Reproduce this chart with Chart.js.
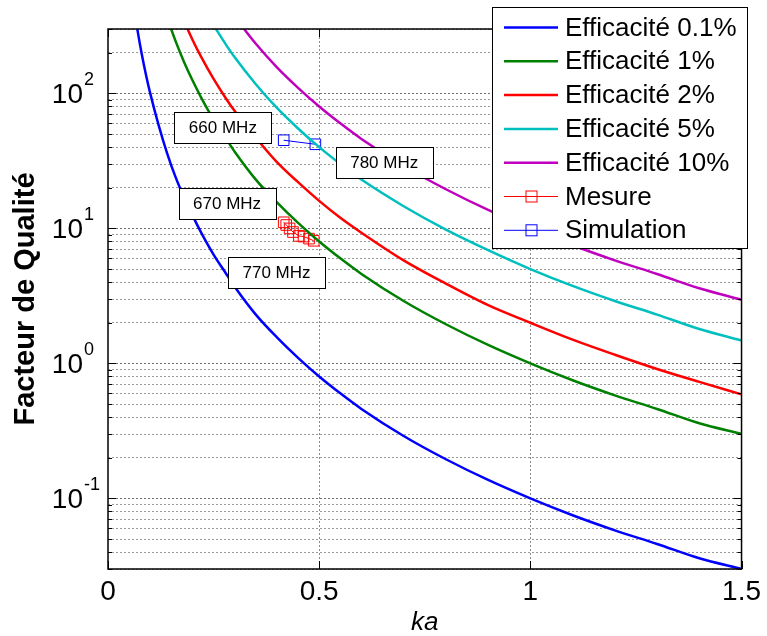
<!DOCTYPE html>
<html>
<head>
<meta charset="utf-8">
<title>Facteur de Qualité</title>
<script src="https://cdn.jsdelivr.net/npm/chart.js@4.4.1/dist/chart.umd.min.js"></script>
<style>
  html, body { margin: 0; padding: 0; background: #fff; }
  #wrap { width: 767px; height: 636px; position: relative; }
</style>
</head>
<body>
<div id="wrap"><canvas id="qChart"></canvas></div>
<script>
// values
const kaGrid = [0.06, 0.07, 0.08, 0.09, 0.10, 0.12, 0.14, 0.16, 0.18, 0.20, 0.22, 0.25, 0.28, 0.30,
  0.35, 0.40, 0.45, 0.50, 0.55, 0.60, 0.70, 0.80, 0.90, 1.00, 1.10, 1.20, 1.30, 1.40, 1.50];

const qEff01 = [463, 292, 195, 137, 100, 58, 36, 24, 17, 12.5, 9.4, 6.4, 4.6, 3.7,
  2.3, 1.56, 1.1, 0.8, 0.6, 0.46, 0.29, 0.195, 0.137, 0.1, 0.075, 0.058, 0.046, 0.036, 0.03];
const qEff1 = [null, null, null, null, null, null, 364, 244, 171, 125, 94, 64, 46, 37,
  23, 15.6, 11, 8, 6, 4.6, 2.9, 1.95, 1.37, 1.0, 0.75, 0.58, 0.46, 0.36, 0.3];
const qEff2 = [null, null, null, null, null, null, null, null, 343, 250, 188, 128, 91, 74,
  47, 31, 22, 16, 12, 9.3, 5.8, 3.9, 2.7, 2.0, 1.5, 1.16, 0.91, 0.73, 0.59];
const qEff5 = [null, null, null, null, null, null, null, null, null, null, null, 320, 228, 185,
  117, 78, 55, 40, 30, 23, 14.6, 9.8, 6.9, 5.0, 3.75, 2.9, 2.3, 1.8, 1.48];
const qEff10 = [null, null, null, null, null, null, null, null, null, null, null, null, null, 370,
  233, 156, 110, 80, 60, 46, 29, 19.5, 13.7, 10, 7.5, 5.8, 4.6, 3.6, 2.96];

const mesureKa = [0.416, 0.422, 0.430, 0.438, 0.452, 0.463, 0.476, 0.487];
const mesureQ = [11.1, 10.6, 10.0, 9.4, 8.8, 8.7, 8.4, 8.1];

const simuKa = [0.416, 0.491];
const simuQ = [45, 42];

const seriesNames = ["Efficacité 0.1%", "Efficacité 1%", "Efficacité 2%", "Efficacité 5%",
  "Efficacité 10%", "Mesure", "Simulation"];
const seriesColors = ["#0000ff", "#008000", "#ff0000", "#00bfbf", "#bf00bf", "#ff0000", "#0000ff"];

const xTicks = [0, 0.5, 1, 1.5];
const yDecades = [-1, 0, 1, 2];
const yMin = 0.03;
const yMax = 300;

// frequency labels: text and the (ka, Q) point where the box is centred
const noteText = ["660 MHz", "780 MHz", "670 MHz", "770 MHz"];
const noteKa = [0.272, 0.654, 0.282, 0.399];
const noteQ = [56, 31, 15.4, 4.75];

const FONT = "'Liberation Sans', Arial, Helvetica, sans-serif";

function toPoints(xs, ys) {
  return xs.map((x, i) => ({ x: x, y: ys[i] }));
}

// minor + major grid positions for the log axis
const yGrid = [];
for (let e = -2; e <= 2; e++) {
  for (let m = 1; m <= 9; m++) {
    const v = m * Math.pow(10, e);
    if (v >= yMin - 1e-9 && v <= yMax + 1e-9) yGrid.push(v);
  }
}
function isDecade(v) {
  const l = Math.log10(v);
  return Math.abs(l - Math.round(l)) < 1e-6;
}

const curveSets = [qEff01, qEff1, qEff2, qEff5, qEff10].map((vals, i) => ({
  label: seriesNames[i],
  data: toPoints(kaGrid, vals),
  borderColor: seriesColors[i],
  borderWidth: 2.5,
  pointRadius: 0,
  cubicInterpolationMode: "monotone",
  spanGaps: false,
}));

const markerSets = [
  { xs: mesureKa, ys: mesureQ, idx: 5 },
  { xs: simuKa, ys: simuQ, idx: 6 },
].map((s) => ({
  label: seriesNames[s.idx],
  data: toPoints(s.xs, s.ys),
  borderColor: seriesColors[s.idx],
  backgroundColor: "rgba(0,0,0,0)",
  borderWidth: 1,
  pointStyle: "rect",
  pointRadius: 7.5,
  pointBorderWidth: 1,
  pointBorderColor: seriesColors[s.idx],
  pointBackgroundColor: "rgba(0,0,0,0)",
}));

// box, tick marks and y labels with superscript exponents
const axesPlugin = {
  id: "axesBox",
  afterDatasetsDraw(chart) {
    const { ctx, chartArea: a, scales } = chart;
    ctx.save();
    ctx.strokeStyle = "#000";
    ctx.lineWidth = 1;
    ctx.beginPath();
    scales.y.ticks.forEach((t) => {
      const py = Math.round(scales.y.getPixelForValue(t.value)) + 0.5;
      const len = isDecade(t.value) ? 8 : 4;
      ctx.moveTo(a.left, py); ctx.lineTo(a.left + len, py);
      ctx.moveTo(a.right, py); ctx.lineTo(a.right - len, py);
    });
    xTicks.forEach((v) => {
      const px = Math.round(scales.x.getPixelForValue(v)) + 0.5;
      ctx.moveTo(px, a.bottom); ctx.lineTo(px, a.bottom - 8);
      ctx.moveTo(px, a.top); ctx.lineTo(px, a.top + 8);
    });
    ctx.stroke();
    ctx.lineWidth = 1.5;
    ctx.strokeRect(a.left, a.top, a.right - a.left, a.bottom - a.top);

    ctx.fillStyle = "#000";
    ctx.textBaseline = "alphabetic";
    yDecades.forEach((e) => {
      const py = scales.y.getPixelForValue(Math.pow(10, e));
      const splitX = a.left - 25;
      ctx.font = "28px " + FONT;
      ctx.textAlign = "right";
      ctx.fillText("10", splitX, py + 10);
      ctx.font = "18px " + FONT;
      ctx.textAlign = "left";
      ctx.fillText(String(e), splitX + 1, py - 8);
    });
    ctx.restore();
  },
  afterDraw(chart) {
    const { ctx, scales } = chart;
    ctx.save();
    // frequency notes
    ctx.font = "17px " + FONT;
    ctx.textAlign = "center";
    ctx.textBaseline = "middle";
    noteText.forEach((txt, i) => {
      const cx = scales.x.getPixelForValue(noteKa[i]);
      const cy = scales.y.getPixelForValue(noteQ[i]);
      const w = 97, h = 31;
      const x0 = Math.round(cx - w / 2) + 0.5;
      const y0 = Math.round(cy - h / 2) + 0.5;
      ctx.fillStyle = "#fff";
      ctx.fillRect(x0, y0, w, h);
      ctx.strokeStyle = "#000";
      ctx.lineWidth = 1;
      ctx.strokeRect(x0, y0, w, h);
      ctx.fillStyle = "#000";
      ctx.fillText(txt, cx, cy + 1);
    });

    // legend
    const lx = 492.5, ly = 7.5, lw = 255, lh = 241;
    ctx.fillStyle = "#fff";
    ctx.fillRect(lx, ly, lw, lh);
    ctx.strokeStyle = "#000";
    ctx.lineWidth = 1;
    ctx.strokeRect(lx, ly, lw, lh);
    ctx.font = "26px " + FONT;
    ctx.textAlign = "left";
    ctx.textBaseline = "middle";
    chart.data.datasets.forEach((ds, i) => {
      const cy = 27.5 + i * 33.8;
      ctx.strokeStyle = ds.borderColor;
      ctx.lineWidth = ds.borderWidth;
      ctx.beginPath();
      ctx.moveTo(504, cy);
      ctx.lineTo(558, cy);
      ctx.stroke();
      if (ds.pointStyle === "rect") {
        ctx.lineWidth = 1;
        ctx.strokeRect(526, cy - 5.5, 11, 11);
      }
      ctx.fillStyle = "#000";
      ctx.fillText(ds.label, 565, cy + 1);
    });
    ctx.restore();
  },
};

const chart = new Chart(document.getElementById("qChart"), {
  type: "line",
  data: { datasets: curveSets.concat(markerSets) },
  options: {
    responsive: true,
    maintainAspectRatio: false,
    animation: false,
    parsing: true,
    layout: { padding: { top: 29, right: 24, left: 0, bottom: 0 } },
    plugins: { legend: { display: false }, tooltip: { enabled: false } },
    elements: { line: { fill: false } },
    scales: {
      x: {
        type: "linear",
        min: 0,
        max: 1.5,
        afterBuildTicks: (s) => { s.ticks = xTicks.map((v) => ({ value: v })); },
        afterFit: (s) => { s.height = 67; },
        ticks: {
          color: "#000",
          font: { family: FONT, size: 28 },
          padding: 6,
          maxRotation: 0,
          autoSkip: false,
          callback: (v) => String(v),
        },
        grid: {
          drawTicks: false,
          color: (c) => (c.tick && (c.tick.value === 0 || c.tick.value === 1.5) ? "rgba(0,0,0,0)" : "#8a8a8a"),
          lineWidth: 1,
        },
        border: { display: false, dash: [2, 2] },
        title: {
          display: true,
          text: "ka",
          color: "#000",
          font: { family: FONT, size: 26, style: "italic", lineHeight: 1 },
          padding: 0,
        },
      },
      y: {
        type: "logarithmic",
        min: yMin,
        max: yMax,
        afterBuildTicks: (s) => { s.ticks = yGrid.map((v) => ({ value: v })); },
        afterFit: (s) => { s.width = 108; },
        ticks: { display: false, autoSkip: false },
        grid: {
          drawTicks: false,
          color: (c) => (c.tick && isDecade(c.tick.value) ? "#6e6e6e" : "#9a9a9a"),
          lineWidth: 1,
        },
        border: { display: false, dash: [2, 2] },
        title: {
          display: true,
          text: "Facteur de Qualité",
          color: "#000",
          font: { family: FONT, size: 29, weight: "bold", lineHeight: 1 },
          padding: { top: 11, bottom: 0 },
        },
      },
    },
  },
  plugins: [axesPlugin],
});
</script>
</body>
</html>
